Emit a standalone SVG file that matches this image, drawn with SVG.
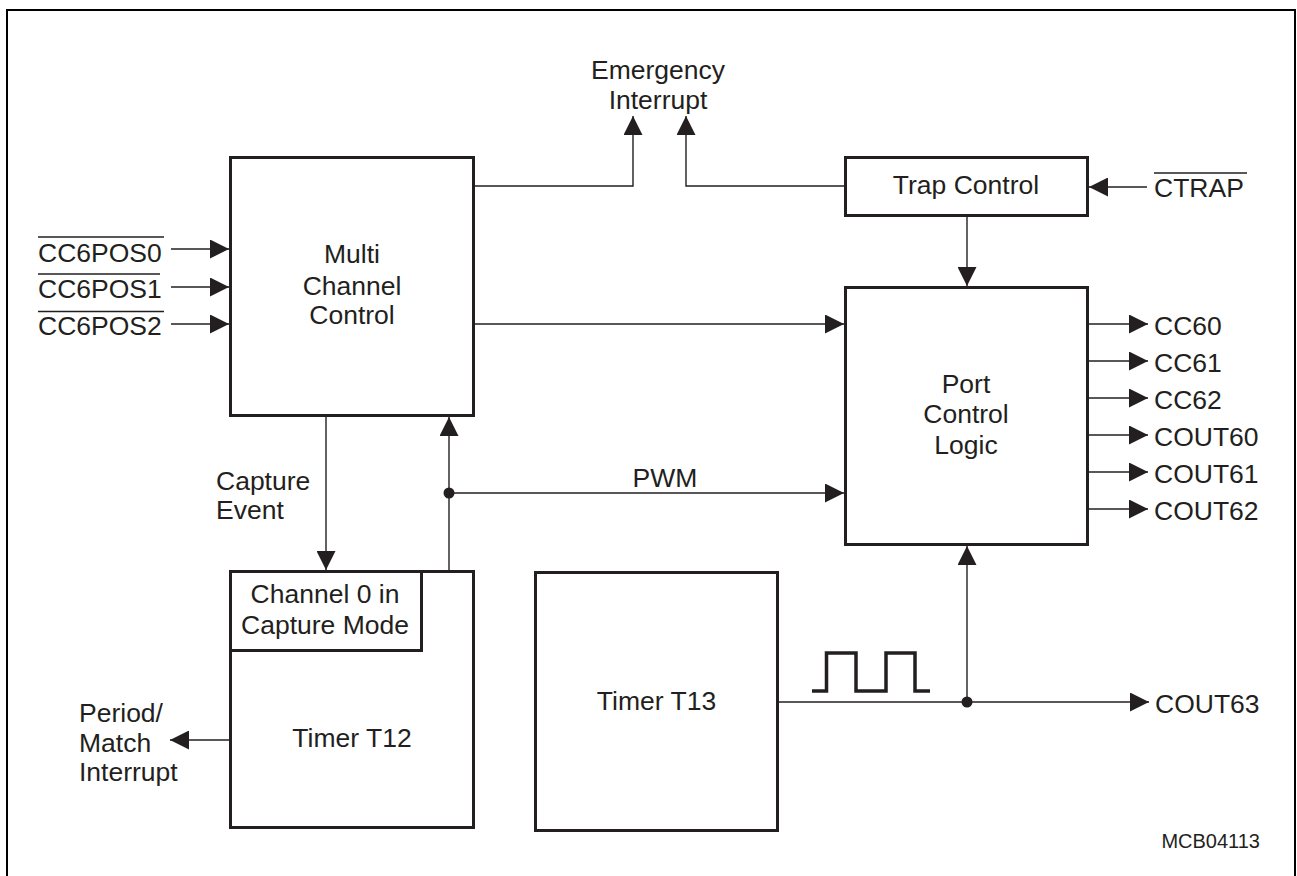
<svg xmlns="http://www.w3.org/2000/svg" width="1297" height="876" viewBox="0 0 1297 876">
<defs>
<style>
.box{fill:#fff;stroke:#231f20;stroke-width:3}
.t{font-family:"Liberation Sans",Arial,sans-serif;font-size:26.5px;fill:#231f20}
.c{text-anchor:middle}
.w{fill:none;stroke:#231f20;stroke-width:1.4}
.ob{stroke:#231f20;stroke-width:1.4}
</style>
<marker id="ah" markerUnits="userSpaceOnUse" markerWidth="19" markerHeight="19" refX="19" refY="9.5" orient="auto" viewBox="0 0 19 19">
<path d="M0,0 L19,9.5 L0,19 z" fill="#231f20"/>
</marker>
</defs>
<rect width="1297" height="876" fill="#fff"/>
<path d="M7,880 V10 H1295 V880" fill="none" stroke="#000" stroke-width="2"/>

<g id="connectors">
<path class="w" d="M171,249 H229" marker-end="url(#ah)"/>
<path class="w" d="M171,287 H229" marker-end="url(#ah)"/>
<path class="w" d="M171,324 H229" marker-end="url(#ah)"/>
<path class="w" d="M475,186 H633 V116" marker-end="url(#ah)"/>
<path class="w" d="M844,186 H686 V116" marker-end="url(#ah)"/>
<path class="w" d="M1147,187 H1089" marker-end="url(#ah)"/>
<path class="w" d="M967,217 V286" marker-end="url(#ah)"/>
<path class="w" d="M475,324 H844" marker-end="url(#ah)"/>
<path class="w" d="M449,493 H844" marker-end="url(#ah)"/>
<path class="w" d="M449,570 V417" marker-end="url(#ah)"/>
<path class="w" d="M326,417 V570" marker-end="url(#ah)"/>
<path class="w" d="M229,740 H170" marker-end="url(#ah)"/>
<path class="w" d="M779,702 H1149" marker-end="url(#ah)"/>
<path class="w" d="M967,702 V546" marker-end="url(#ah)"/>
<path class="w" d="M1089,324 H1148" marker-end="url(#ah)"/>
<path class="w" d="M1089,361 H1148" marker-end="url(#ah)"/>
<path class="w" d="M1089,398 H1148" marker-end="url(#ah)"/>
<path class="w" d="M1089,435 H1148" marker-end="url(#ah)"/>
<path class="w" d="M1089,472 H1148" marker-end="url(#ah)"/>
<path class="w" d="M1089,509 H1148" marker-end="url(#ah)"/>
<circle cx="449" cy="493" r="5.5" fill="#231f20"/>
<circle cx="967" cy="702" r="5.5" fill="#231f20"/>
<polyline points="812,691 826.5,691 826.5,653 856,653 856,691 886,691 886,653 915,653 915,691 930,691" fill="none" stroke="#231f20" stroke-width="3.5"/>
</g>

<g id="inputs">
<text class="t" x="38" y="262">CC6POS0</text>
<line class="ob" x1="38" y1="237" x2="164" y2="237"/>
<text class="t" x="38" y="298">CC6POS1</text>
<line class="ob" x1="38" y1="274" x2="160" y2="274"/>
<text class="t" x="38" y="335">CC6POS2</text>
<line class="ob" x1="38" y1="311.5" x2="164" y2="311.5"/>
</g>

<g id="mcc">
<rect class="box" x="230.5" y="157.5" width="243" height="258"/>
<text class="t c" x="352" y="263">Multi</text>
<text class="t c" x="352" y="295">Channel</text>
<text class="t c" x="352" y="324">Control</text>
</g>

<g id="emergency">
<text class="t c" x="658" y="79">Emergency</text>
<text class="t c" x="658" y="109">Interrupt</text>
</g>

<g id="trap">
<rect class="box" x="845.5" y="157.5" width="242" height="58"/>
<text class="t c" x="966" y="194">Trap Control</text>
</g>

<g id="ctrap">
<text class="t" x="1154" y="197">CTRAP</text>
<line class="ob" x1="1154" y1="173" x2="1247" y2="173"/>
</g>

<g id="port">
<rect class="box" x="845.5" y="287.5" width="242" height="257"/>
<text class="t c" x="966" y="393">Port</text>
<text class="t c" x="966" y="423">Control</text>
<text class="t c" x="966" y="454">Logic</text>
</g>

<g id="outputs">
<text class="t" x="1154" y="335">CC60</text>
<text class="t" x="1154" y="372">CC61</text>
<text class="t" x="1154" y="409">CC62</text>
<text class="t" x="1154" y="446">COUT60</text>
<text class="t" x="1154" y="483">COUT61</text>
<text class="t" x="1154" y="520">COUT62</text>
<text class="t" x="1155" y="713">COUT63</text>
</g>

<g id="pwm">
<text class="t c" x="665" y="487">PWM</text>
</g>

<g id="capture-event">
<text class="t" x="216" y="490">Capture</text>
<text class="t" x="216" y="519">Event</text>
</g>

<g id="t12">
<rect class="box" x="230.5" y="571.5" width="243" height="256"/>
<text class="t c" x="352" y="747">Timer T12</text>
</g>

<g id="ch0">
<rect class="box" x="230.5" y="571.5" width="191" height="79"/>
<text class="t c" x="325" y="603">Channel 0 in</text>
<text class="t c" x="325" y="634">Capture Mode</text>
</g>

<g id="period">
<text class="t" x="79" y="722">Period/</text>
<text class="t" x="79" y="752">Match</text>
<text class="t" x="79" y="781">Interrupt</text>
</g>

<g id="t13">
<rect class="box" x="535.5" y="572.5" width="242" height="258"/>
<text class="t c" x="656.5" y="710">Timer T13</text>
</g>

<text x="1260" y="848" font-family="Liberation Sans, Arial, sans-serif" font-size="20" fill="#231f20" text-anchor="end">MCB04113</text>
</svg>
